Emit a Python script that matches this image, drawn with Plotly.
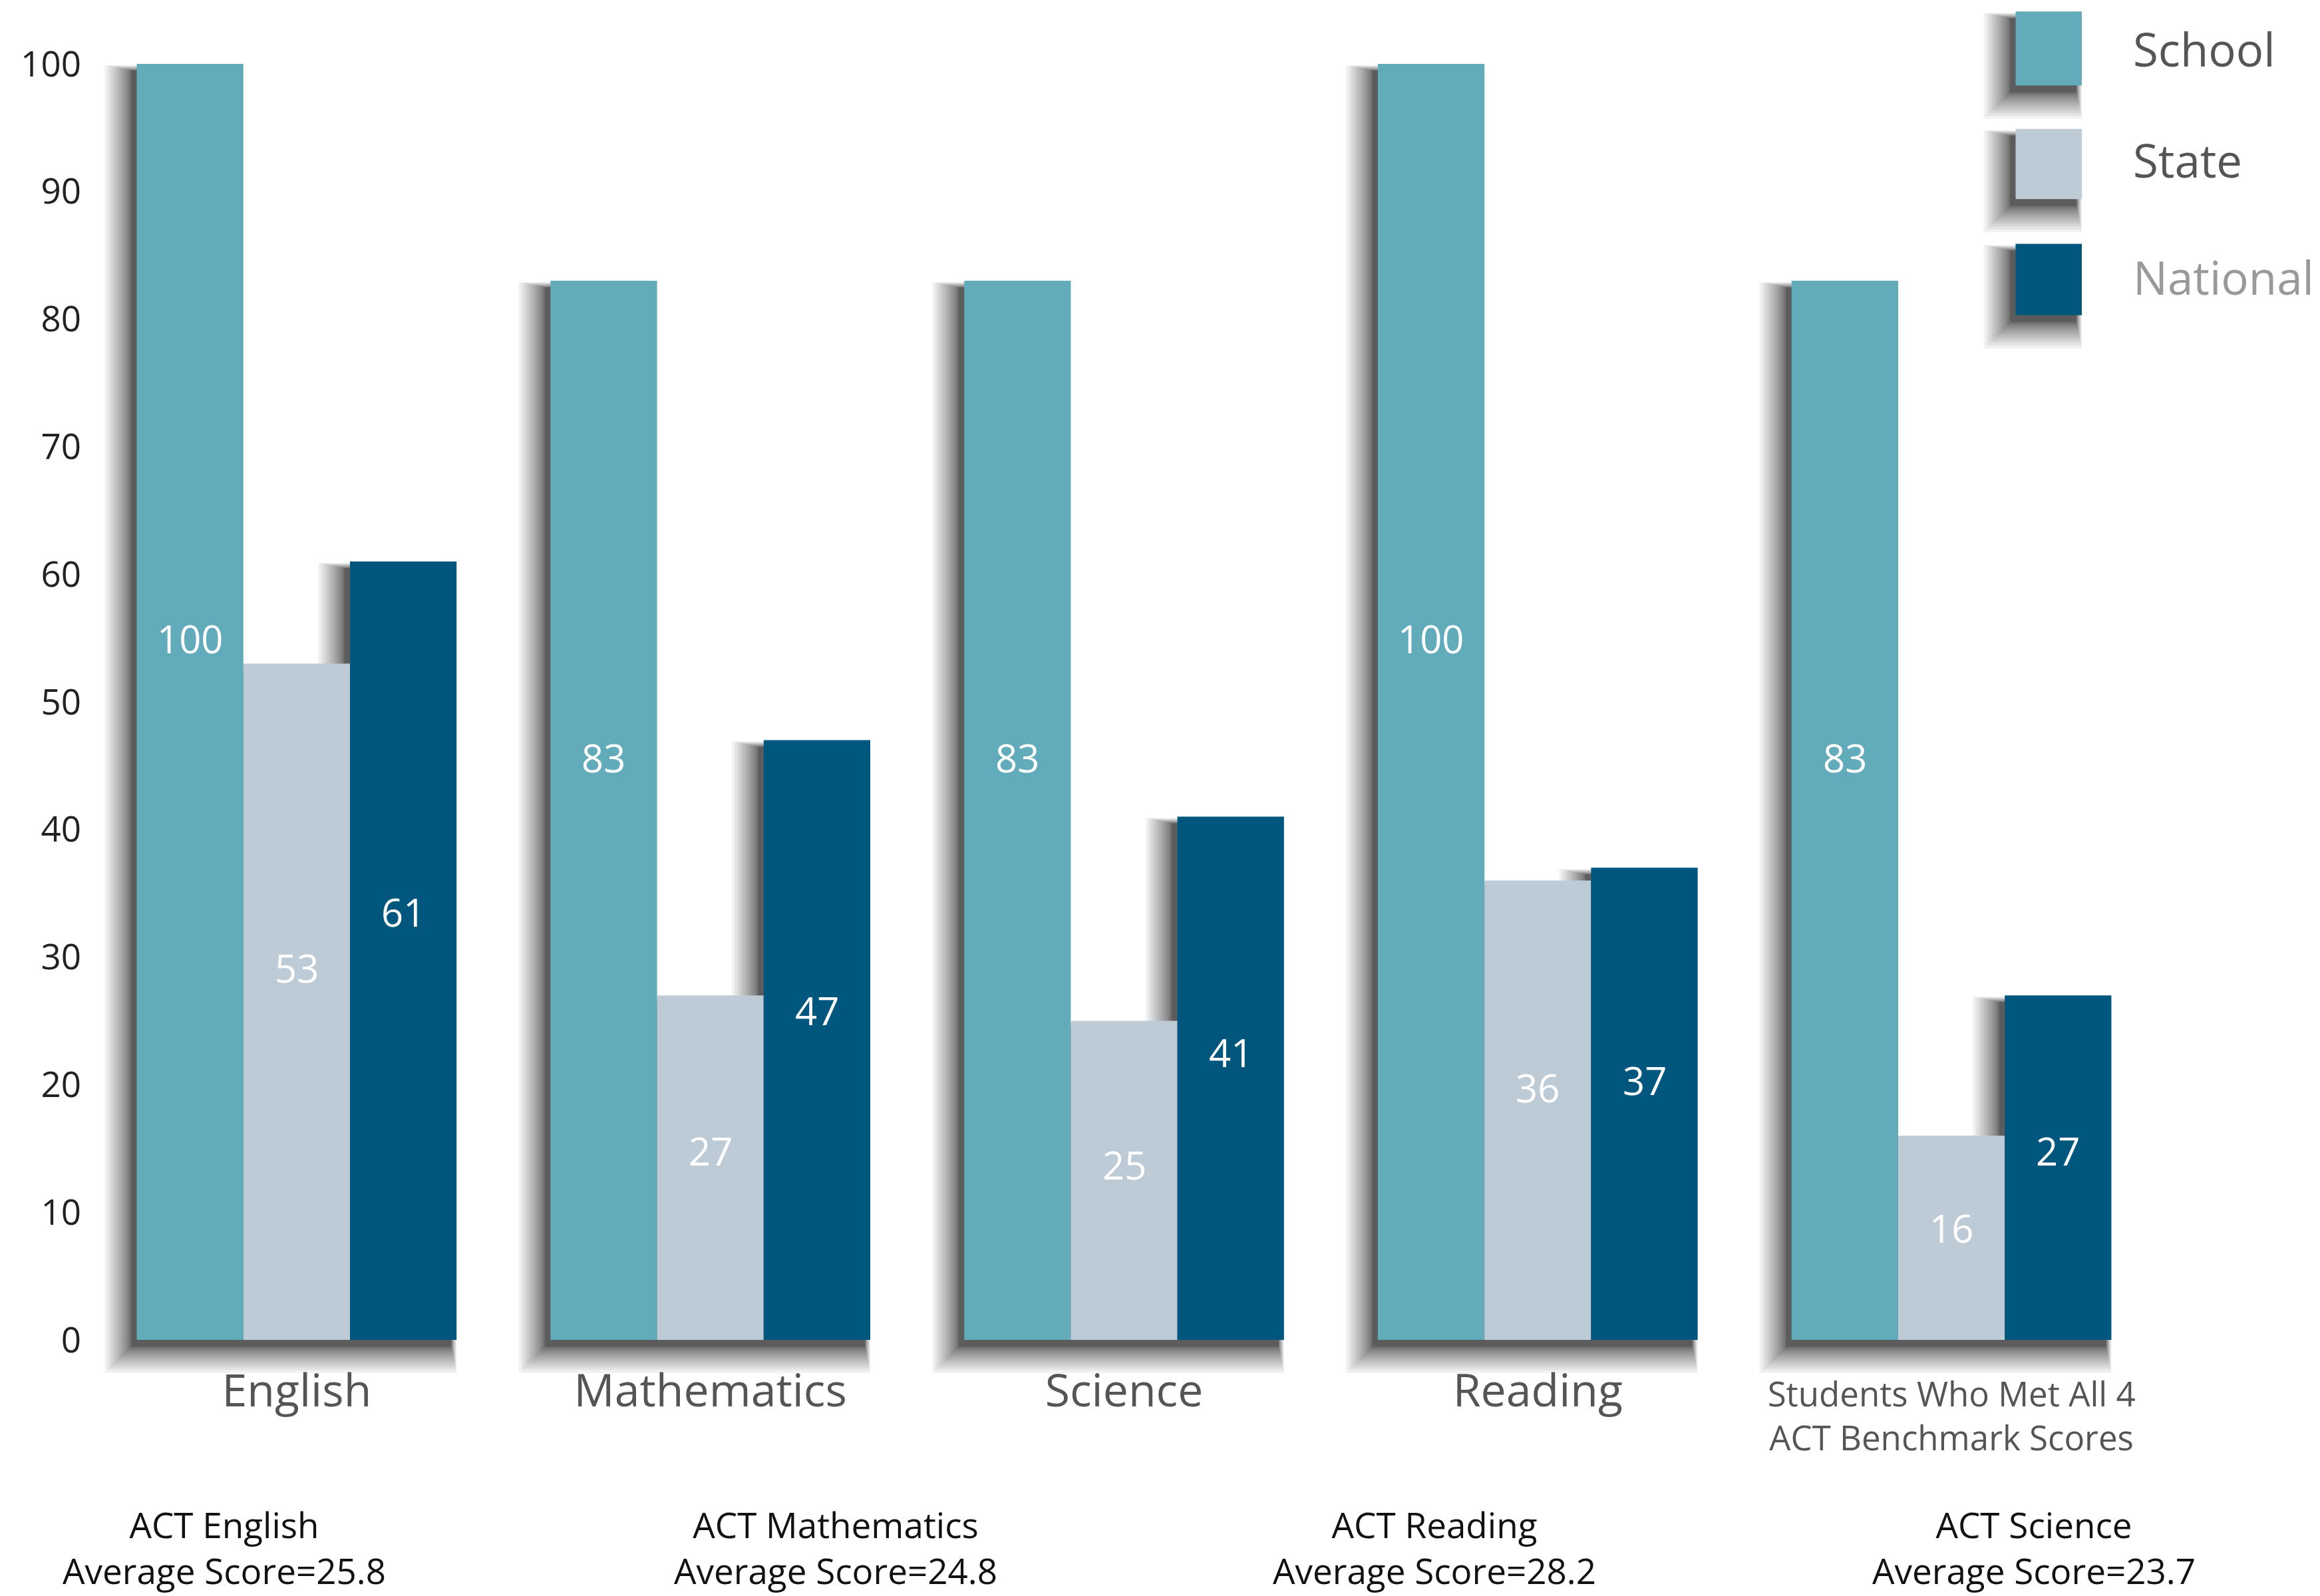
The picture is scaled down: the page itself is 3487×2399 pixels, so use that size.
import plotly.graph_objects as go

categories = ["English", "Mathematics", "Science", "Reading", "Students Who Met All 4<br>ACT Benchmark Scores"]
school = [100, 83, 83, 100, 83]
state = [53, 27, 25, 36, 16]
national = [61, 47, 41, 37, 27]
series_names = ["School", "State", "National"]
colors = ["#62ABBB", "#BDCBD7", "#00567D"]
y_ticks = [0, 10, 20, 30, 40, 50, 60, 70, 80, 90, 100]
avg_labels = ["ACT English<br>Average Score=25.8", "ACT Mathematics<br>Average Score=24.8",
              "ACT Reading<br>Average Score=28.2", "ACT Science<br>Average Score=23.7"]
avg_x = [0.065, 0.3605, 0.650, 0.940]

FONT = "Open Sans"
W, H = 3487, 2399
PL, PR, PT, PB = 127, 3236, 88, 2006          # plot area in pixels
ML, MR, MT, MB = PL, W - PR, PT, H - PB
BARGAP = 0.227
PX_PER_X = (PR - PL) / 5.0
PX_PER_PX = float(PR - PL)
PX_PER_PY = float(PB - PT)

xs = list(range(len(categories)))
tick_text = []
for c in categories:
    if "<br>" in c:
        tick_text.append(c)
    else:
        tick_text.append("<span style='font-size:68px'>" + c + "</span>")

series = [school, state, national]
fig = go.Figure()
for name, vals, col in zip(series_names, series, colors):
    fig.add_trace(go.Bar(
        x=xs, y=vals, name=name, marker=dict(color=col, line=dict(width=0)),
        textposition="none", showlegend=False,
    ))

bw = (1 - BARGAP) / 3.0

# value labels inside bars
for j, vals in enumerate(series):
    for i, v in enumerate(vals):
        fig.add_annotation(x=i + (j - 1) * bw, y=v * 0.55, xref="x", yref="y", text=str(v),
                           showarrow=False, xanchor="center", yanchor="middle",
                           font=dict(family=FONT, size=58, color="white"))

# soft drop shadows (light from upper right) built from stacked translucent layers
SH_DX, SH_DY, SH_R, NL, SH_A, BACK, GAMMA = 8, 10, 40, 17, 0.055, 0.2, 1.8
shadow_fill = f"rgba(0,0,0,{SH_A})"
layer_ext = [SH_R * (L / (NL - 1)) ** GAMMA for L in range(NL)]
dx = SH_DX / PX_PER_X
dy = SH_DY / PX_PER_PY
for i in xs:
    hs = [s[i] / 100.0 for s in series]
    a = [i - 1.5 * bw, i - 0.5 * bw, i + 0.5 * bw, i + 1.5 * bw]
    for e in layer_ext:
        exl, exr = e / PX_PER_X, BACK * e / PX_PER_X
        eyb, eyt = e / PX_PER_PY, BACK * e / PX_PER_PY
        bottom = -dy - eyb
        pts = [(a[0] - dx - exl, bottom), (a[0] - dx - exl, hs[0] - dy + eyt)]
        for k in range(2):
            xb = a[k + 1] - dx
            if hs[k] >= hs[k + 1]:
                pts += [(xb + exr, hs[k] - dy + eyt), (xb + exr, hs[k + 1] - dy + eyt)]
            else:
                pts += [(xb - exl, hs[k] - dy + eyt), (xb - exl, hs[k + 1] - dy + eyt)]
        pts += [(a[3] - dx + exr, hs[2] - dy + eyt), (a[3] - dx + exr, bottom)]
        path = "M " + " L ".join(f"{px:.5f},{py:.5f}" for px, py in pts) + " Z"
        fig.add_shape(type="path", path=path, xref="x", yref="paper", layer="below",
                      fillcolor=shadow_fill, line=dict(width=0))

fig.update_layout(
    width=W, height=H,
    margin=dict(l=ML, r=MR, t=MT, b=MB),
    barmode="group", bargap=BARGAP, bargroupgap=0,
    plot_bgcolor="white", paper_bgcolor="white",
    font=dict(family=FONT),
)
fig.update_xaxes(
    tickmode="array", tickvals=xs, ticktext=tick_text,
    range=[-0.5, 4.5], showgrid=False, zeroline=False, showline=False, ticks="",
    tickfont=dict(family=FONT, size=51, color="#555555"), ticklabelstandoff=48,
)
fig.update_yaxes(
    range=[0, 100], tickmode="array", tickvals=y_ticks, ticktext=[str(t) for t in y_ticks],
    showgrid=False, zeroline=False, showline=False, ticks="",
    tickfont=dict(family=FONT, size=53, color="#222222"), ticklabelstandoff=12,
)

for txt, ax in zip(avg_labels, avg_x):
    fig.add_annotation(text=txt, x=ax, y=-0.1627, xref="paper", yref="paper",
                       showarrow=False, xanchor="center", yanchor="middle",
                       font=dict(family=FONT, size=53, color="#111111"))

# legend (drawn manually to match big swatches)
sw_y = [(1.041, 0.983), (0.949, 0.894), (0.859, 0.803)]
txt_y = [1.012, 0.925, 0.833]
txt_col = ["#555555", "#555555", "#999999"]
sx0, sx1 = 0.931, 0.963
ldx, ldy = SH_DX / PX_PER_PX, SH_DY / PX_PER_PY
for name, col, (y1, y0), ty, tc in zip(series_names, colors, sw_y, txt_y, txt_col):
    for e in layer_ext:
        fig.add_shape(type="rect", xref="paper", yref="paper",
                      x0=sx0 - ldx - e / PX_PER_PX, x1=sx1 - ldx + BACK * e / PX_PER_PX,
                      y0=y0 - ldy - e / PX_PER_PY, y1=y1 - ldy + BACK * e / PX_PER_PY,
                      fillcolor=shadow_fill, line=dict(width=0))
    fig.add_shape(type="rect", xref="paper", yref="paper", x0=sx0, x1=sx1,
                  y0=y0, y1=y1, fillcolor=col, line=dict(width=0))
    fig.add_annotation(text=name, x=0.987, y=ty, xref="paper", yref="paper",
                       showarrow=False, xanchor="left", yanchor="middle",
                       font=dict(family=FONT, size=69, color=tc))

fig.write_html("out.html")
